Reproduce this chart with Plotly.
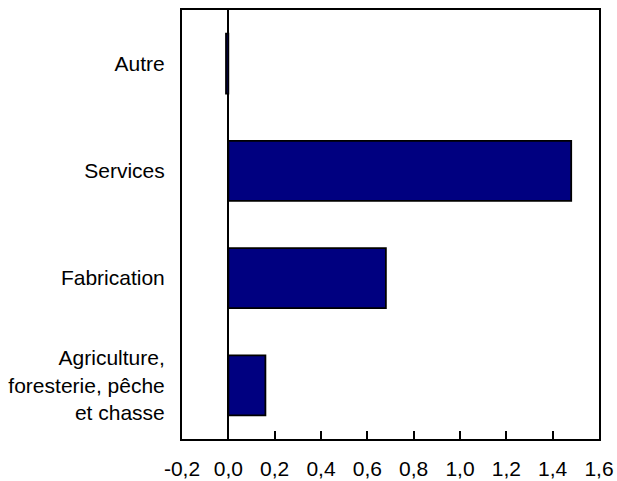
import plotly.graph_objects as go

categories = ["Agriculture,<br>foresterie, pêche<br>et chasse", "Fabrication", "Services", "Autre"]
values = [0.16, 0.68, 1.48, -0.01]
tick_vals = [-0.2, 0.0, 0.2, 0.4, 0.6, 0.8, 1.0, 1.2, 1.4, 1.6]
tick_text = ["-0,2", "0,0", "0,2", "0,4", "0,6", "0,8", "1,0", "1,2", "1,4", "1,6"]

fig = go.Figure(go.Bar(
    x=values, y=categories, orientation="h",
    marker=dict(color="#000080", line=dict(color="black", width=1.8)),
    width=0.56,
))

fig.update_layout(
    width=617, height=481,
    margin=dict(l=182, r=18, t=10, b=42, autoexpand=False),
    paper_bgcolor="white", plot_bgcolor="white",
    font=dict(family="Liberation Sans, Arial, sans-serif", size=21, color="black"),
    showlegend=False,
)
fig.update_xaxes(
    range=[-0.2, 1.6], tickvals=tick_vals, ticktext=tick_text,
    ticks="inside", ticklen=8, tickwidth=2, tickcolor="black",
    showline=True, linecolor="black", linewidth=2, mirror=True,
    showgrid=False, zeroline=True, zerolinecolor="black", zerolinewidth=1.5,
    ticklabelstandoff=10, automargin=False,
)
fig.update_yaxes(
    range=[-0.5, 3.5], ticks="", showline=True, linecolor="black", linewidth=2,
    mirror=True, showgrid=False, zeroline=False, ticklabelstandoff=11, automargin=False,
)

fig.write_html("out.html", config={"displayModeBar": False},
               post_script="document.body.style.margin='0';document.body.style.overflow='hidden';")
